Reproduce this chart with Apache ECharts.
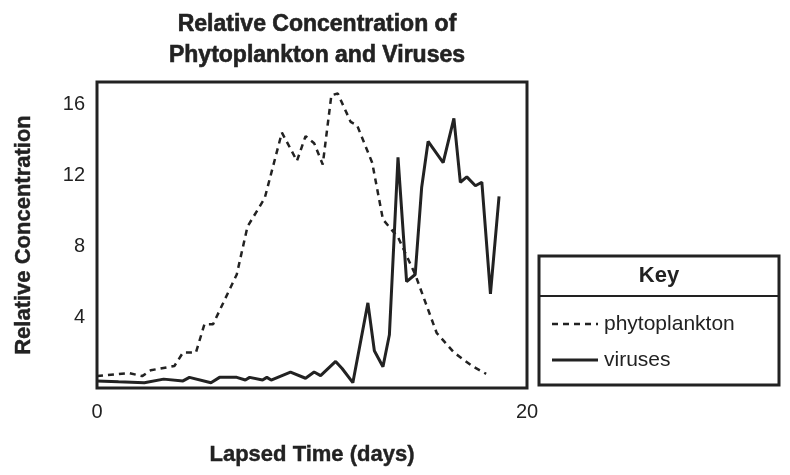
<!DOCTYPE html>
<html>
<head>
<meta charset="utf-8">
<script src="https://cdn.jsdelivr.net/npm/echarts@6/dist/echarts.min.js"></script>
<style>body{margin:0;background:#fff}#c{width:790px;height:475px}</style>
</head>
<body>
<div id="c"></div>
<script>
// values: [day, relative concentration]
var phyto = [[0,0.67],[1.5,0.84],[2.1,0.67],[2.5,1.0],[3.6,1.24],[4.0,2.0],[4.6,2.0],[5.0,3.6],[5.4,3.6],
  [6.5,6.4],[7.0,9.1],[7.8,10.7],[8.6,14.4],[9.3,12.8],[9.7,14.2],[10.1,13.8],[10.5,12.6],[10.9,16.5],
  [11.2,16.6],[11.8,15.0],[12.1,14.8],[12.8,12.7],[13.3,9.5],[14.0,8.5],[14.8,6.4],[15.8,3.1],[16.6,2.0],
  [17.5,1.2],[18.1,0.8]];
var viruses = [[0,0.4],[1.0,0.35],[2.2,0.3],[3.1,0.5],[4.0,0.4],[4.3,0.6],[5.3,0.3],[5.7,0.6],[6.5,0.6],
  [6.9,0.45],[7.1,0.6],[7.7,0.45],[7.9,0.6],[8.1,0.45],[9.0,0.9],[9.7,0.55],[10.1,0.9],[10.4,0.7],
  [11.1,1.5],[11.4,1.1],[11.9,0.3],[12.6,4.8],[12.9,2.1],[13.3,1.2],[13.6,3.0],[14.0,13.0],[14.4,6.0],
  [14.8,6.4],[15.1,11.3],[15.4,13.9],[16.1,12.7],[16.6,15.2],[16.9,11.6],[17.2,11.9],[17.6,11.4],
  [17.9,11.6],[18.3,5.3],[18.7,10.8]];
var yTicks = [4, 8, 12, 16];
var xTicks = [0, 20];

var chart = echarts.init(document.getElementById('c'));
var txt = {color: '#222', fontFamily: 'Liberation Sans, Arial', fontWeight: 'bold'};
chart.setOption({
  animation: false,
  title: {text: 'Relative Concentration of\nPhytoplankton and Viruses', left: 312, top: 4, textAlign: 'center',
    textStyle: Object.assign({fontSize: 23, lineHeight: 31, textBorderColor: '#222', textBorderWidth: 0.6}, txt)},
  grid: {left: 97, right: 263, top: 82, bottom: 87, show: true, borderColor: '#222', borderWidth: 3},
  xAxis: {type: 'value', min: 0, max: 20, interval: 20,
    name: 'Lapsed Time (days)', nameLocation: 'middle', nameGap: 56,
    nameTextStyle: Object.assign({fontSize: 22, textBorderColor: '#222', textBorderWidth: 0.4}, txt),
    axisLine: {show: false}, axisTick: {show: false}, splitLine: {show: false},
    axisLabel: {color: '#222', fontSize: 20, fontFamily: 'Liberation Sans, Arial', margin: 14,
      formatter: function (v) { return xTicks.indexOf(v) >= 0 ? v : ''; }}},
  yAxis: {type: 'value', min: 0, max: 17.25, interval: 4,
    name: 'Relative Concentration', nameLocation: 'middle', nameGap: 62,
    nameTextStyle: Object.assign({fontSize: 22, textBorderColor: '#222', textBorderWidth: 0.4}, txt),
    axisLine: {show: false}, axisTick: {show: false}, splitLine: {show: false},
    axisLabel: {color: '#222', fontSize: 20, fontFamily: 'Liberation Sans, Arial', margin: 12,
      formatter: function (v) { return yTicks.indexOf(v) >= 0 ? v : ''; }}},
  series: [
    {name: 'phytoplankton', type: 'line', data: phyto, symbol: 'none',
      lineStyle: {color: '#222', width: 2.5, type: [6, 5]}},
    {name: 'viruses', type: 'line', data: viruses, symbol: 'none',
      lineStyle: {color: '#222', width: 3}}
  ],
  graphic: [
    {type: 'rect', shape: {x: 539, y: 256, width: 240, height: 129}, style: {fill: '#fff', stroke: '#222', lineWidth: 3}},
    {type: 'line', shape: {x1: 539, y1: 296, x2: 779, y2: 296}, style: {stroke: '#222', lineWidth: 2}},
    {type: 'text', x: 659, y: 276, style: {text: 'Key', fontSize: 22, fontWeight: 'bold', fontFamily: 'Liberation Sans, Arial', fill: '#222', align: 'center', verticalAlign: 'middle'}},
    {type: 'line', shape: {x1: 552, y1: 324, x2: 598, y2: 324}, style: {stroke: '#222', lineWidth: 2.5, lineDash: [6, 5]}},
    {type: 'text', x: 604, y: 324, style: {text: 'phytoplankton', fontSize: 21, fontFamily: 'Liberation Sans, Arial', fill: '#222', verticalAlign: 'middle'}},
    {type: 'line', shape: {x1: 552, y1: 360, x2: 598, y2: 360}, style: {stroke: '#222', lineWidth: 3}},
    {type: 'text', x: 604, y: 360, style: {text: 'viruses', fontSize: 21, fontFamily: 'Liberation Sans, Arial', fill: '#222', verticalAlign: 'middle'}}
  ]
});
</script>
</body>
</html>
